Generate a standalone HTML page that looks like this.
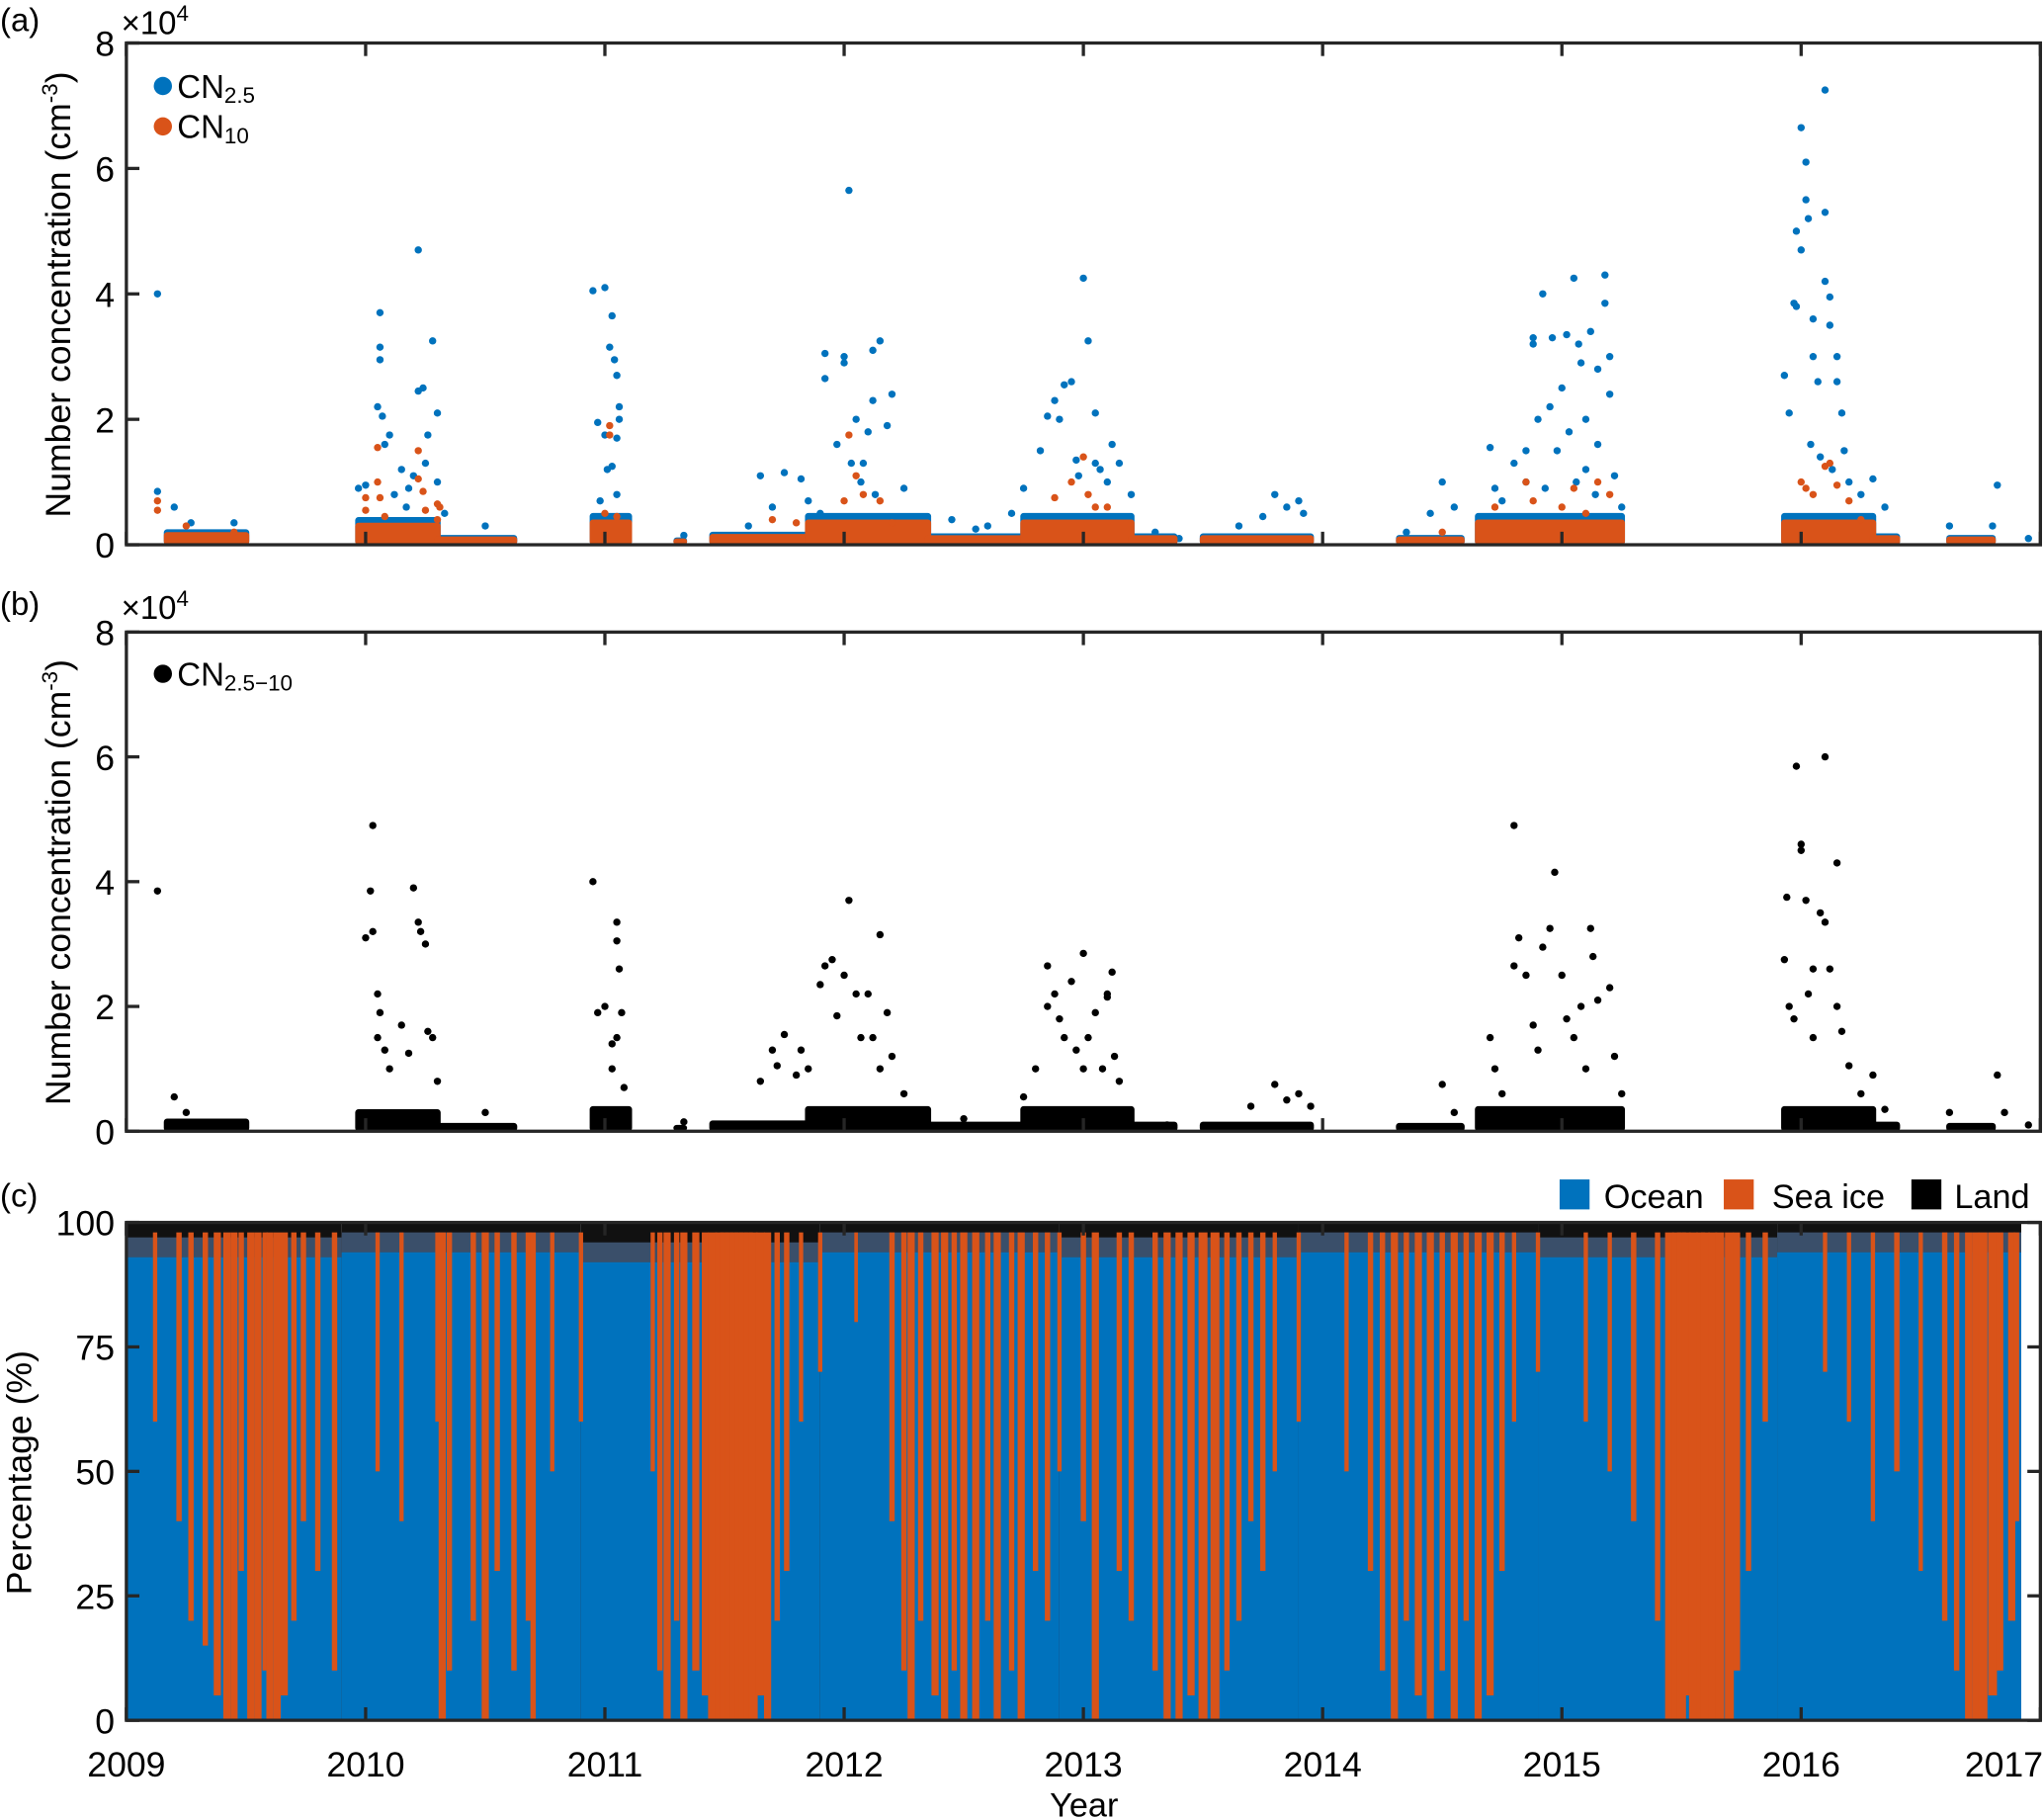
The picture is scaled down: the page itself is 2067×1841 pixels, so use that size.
<!DOCTYPE html>
<html><head><meta charset="utf-8"><style>
html,body{margin:0;padding:0;background:#fff}
svg{display:block}
text{font-family:"Liberation Sans",Arial,sans-serif;fill:#000}
</style></head><body>
<svg id="chart" width="2067" height="1841" viewBox="0 0 1568 1396.5" preserveAspectRatio="none" xmlns="http://www.w3.org/2000/svg">
<g id="gA"></g>
<g id="gB"></g>
<g id="gC"></g>
</svg>
<script>
// ---- data ----
const yearTicks=[2009,2010,2011,2012,2013,2014,2015,2016,2017];
const concTicks=[0,2,4,6,8];
const pctTicks=[0,25,50,75,100];
// dense low-level measurement campaigns: start, end, typical top (x1e4)
const campStart=[2009.17,2009.97,2010.3,2010.95,2011.3,2011.45,2011.85,2012.35,2012.75,2013.2,2013.5,2014.32,2014.65,2015.93,2016.3,2016.62];
const campEnd=[2009.5,2010.3,2010.62,2011.1,2011.33,2011.85,2012.35,2012.75,2013.2,2013.38,2013.95,2014.58,2015.25,2016.3,2016.4,2016.8];
const campTop=[0.15,0.3,0.08,0.35,0.05,0.12,0.35,0.1,0.35,0.1,0.1,0.08,0.35,0.35,0.1,0.08];
// CN2.5
const cn25Year=[2009.13,2009.13,2009.2,2009.27,2009.45,2009.97,2010.0,2010.05,2010.06,2010.06,2010.06,2010.07,2010.08,2010.1,2010.15,2010.17,2010.2,2010.22,2010.22,2010.24,2010.25,2010.26,2010.28,2010.3,2010.3,2010.33,2010.5,2010.95,2010.97,2010.98,2011.0,2011.0,2011.02,2011.03,2011.04,2011.05,2011.06,2011.06,2011.05,2011.03,2011.05,2011.33,2011.6,2011.7,2011.65,2011.75,2011.82,2011.85,2011.9,2011.92,2011.92,2011.97,2012.0,2012.0,2012.02,2012.05,2012.08,2012.1,2012.12,2012.12,2012.15,2012.18,2012.2,2012.25,2012.3,2012.45,2012.55,2012.6,2012.7,2012.75,2012.82,2012.85,2012.88,2012.9,2012.92,2012.95,2012.97,2013.0,2013.02,2013.05,2013.05,2013.1,2013.12,2013.15,2013.2,2013.3,2013.4,2013.75,2013.8,2013.85,2013.9,2013.92,2013.65,2014.35,2014.45,2014.5,2014.55,2014.7,2014.72,2014.75,2014.8,2014.85,2014.85,2014.88,2014.88,2014.9,2014.92,2014.95,2014.96,2014.98,2015.0,2015.02,2015.03,2015.05,2015.07,2015.08,2015.1,2015.1,2015.12,2015.15,2015.15,2015.18,2015.18,2015.2,2015.2,2015.22,2015.25,2015.93,2015.95,2015.97,2015.98,2015.98,2016.0,2016.0,2016.02,2016.02,2016.03,2016.05,2016.05,2016.07,2016.1,2016.1,2016.1,2016.12,2016.12,2016.15,2016.15,2016.17,2016.18,2016.2,2016.25,2016.3,2016.35,2016.62,2016.8,2016.82,2016.95,2010.12,2010.18,2011.01,2012.03,2012.07,2012.13,2012.98,2013.07,2014.93,2015.06,2015.14,2016.04,2016.08,2016.13];
const cn25Val=[4.0,0.85,0.6,0.35,0.35,0.9,0.95,2.2,3.7,3.15,2.95,2.05,1.6,1.75,1.2,0.6,1.1,4.7,2.45,2.5,1.3,1.75,3.25,2.1,1.0,0.5,0.3,4.05,1.95,0.7,4.1,1.75,3.15,3.65,2.95,2.7,2.2,2.0,1.7,1.25,0.8,0.15,0.3,0.6,1.1,1.15,1.05,0.7,0.5,3.05,2.65,1.6,2.9,3.0,5.65,2.0,1.3,1.8,3.1,2.3,3.25,1.9,2.4,0.9,0.4,0.4,0.25,0.3,0.5,0.9,1.5,2.05,2.3,2.0,2.55,2.6,1.35,4.25,3.25,2.1,1.3,1.0,1.6,1.3,0.8,0.2,0.1,0.45,0.8,0.6,0.7,0.5,0.3,0.2,0.5,1.0,0.6,1.55,0.9,0.7,1.3,1.5,1.0,3.3,3.2,2.0,4.0,2.2,3.3,1.5,2.5,3.35,1.8,4.25,3.2,2.9,2.0,1.2,3.4,1.6,2.8,4.3,3.85,3.0,2.4,1.1,0.6,2.7,2.1,3.85,3.8,5.0,4.7,6.65,6.1,5.5,5.2,3.6,3.0,2.6,5.3,4.2,7.25,3.95,3.5,3.0,2.6,2.1,1.5,1.0,0.8,1.05,0.6,0.3,0.3,0.95,0.1,0.8,0.9,1.2,1.3,1.0,0.8,1.1,1.2,0.9,1.0,0.8,1.6,1.4,1.2];
// CN10
const cn10Year=[2009.13,2009.13,2009.25,2009.45,2010.0,2010.0,2010.05,2010.05,2010.06,2010.08,2010.22,2010.22,2010.24,2010.25,2010.3,2010.31,2010.3,2011.02,2011.02,2011.0,2011.05,2012.0,2012.02,2012.05,2012.08,2012.15,2012.2,2011.8,2011.7,2012.88,2012.95,2013.0,2013.02,2013.05,2013.1,2014.5,2014.72,2014.85,2014.88,2015.0,2015.05,2015.1,2015.15,2015.2,2016.0,2016.02,2016.05,2016.1,2016.12,2016.15,2016.2,2016.25];
const cn10Val=[0.7,0.55,0.3,0.2,0.75,0.55,1.55,1.0,0.75,0.45,1.5,1.05,0.85,0.55,0.65,0.6,0.4,1.9,1.75,0.5,0.45,0.7,1.75,1.1,0.8,0.7,0.35,0.35,0.4,0.75,1.0,1.4,0.8,0.6,0.6,0.2,0.6,1.0,0.7,0.6,0.9,0.5,1.0,0.8,1.0,0.9,0.8,1.25,1.3,0.95,0.7,0.4];
// CN2.5-10
const cnDiffYear=[2009.13,2009.2,2009.25,2010.03,2010.02,2010.0,2010.03,2010.05,2010.06,2010.05,2010.08,2010.1,2010.15,2010.18,2010.2,2010.22,2010.23,2010.25,2010.26,2010.28,2010.3,2010.5,2010.95,2010.97,2011.0,2011.03,2011.03,2011.05,2011.05,2011.06,2011.07,2011.05,2011.08,2011.33,2011.65,2011.7,2011.72,2011.75,2011.8,2011.82,2011.85,2011.9,2011.92,2011.95,2011.97,2012.0,2012.02,2012.05,2012.07,2012.1,2012.12,2012.15,2012.15,2012.18,2012.2,2012.25,2012.3,2012.5,2012.75,2012.8,2012.85,2012.85,2012.88,2012.9,2012.92,2012.95,2012.97,2013.0,2013.0,2013.02,2013.05,2013.08,2013.1,2013.12,2013.1,2013.13,2013.15,2013.35,2013.7,2013.8,2013.85,2013.9,2013.95,2014.5,2014.55,2014.7,2014.72,2014.75,2014.8,2014.8,2014.82,2014.85,2014.88,2014.9,2014.92,2014.95,2014.97,2015.0,2015.02,2015.05,2015.08,2015.1,2015.12,2015.13,2015.15,2015.2,2015.22,2015.25,2015.93,2015.94,2015.95,2015.97,2015.98,2016.0,2016.0,2016.02,2016.03,2016.05,2016.05,2016.08,2016.1,2016.1,2016.12,2016.15,2016.15,2016.17,2016.2,2016.25,2016.3,2016.35,2016.62,2016.82,2016.85,2016.95];
const cnDiffVal=[3.85,0.55,0.3,4.9,3.85,3.1,3.2,2.2,1.9,1.5,1.3,1.0,1.7,1.25,3.9,3.35,3.2,3.0,1.6,1.5,0.8,0.3,4.0,1.9,2.0,1.4,1.0,3.35,3.05,2.6,1.9,1.5,0.7,0.15,0.8,1.3,1.05,1.55,0.9,1.3,1.0,2.35,2.65,2.75,1.85,2.5,3.7,2.2,1.5,2.2,1.5,1.0,3.15,1.9,1.2,0.6,0.3,0.2,0.55,1.0,2.0,2.65,2.2,1.8,1.5,2.4,1.3,2.85,1.0,1.5,1.9,1.0,2.2,2.55,2.15,1.2,0.8,0.1,0.4,0.75,0.5,0.6,0.4,0.75,0.3,1.5,1.0,0.6,4.9,2.65,3.1,2.5,1.7,1.3,2.95,3.25,4.15,2.5,1.8,1.5,2.0,1.0,3.25,2.8,2.1,2.3,1.2,0.6,2.75,3.75,2.0,1.8,5.85,4.6,4.5,3.7,2.2,1.5,2.6,3.5,6.0,3.35,2.6,4.3,2.0,1.6,1.05,0.6,0.9,0.35,0.3,0.9,0.3,0.1];
// panel c: base segments and sea-ice stripes (ocean % below the sea-ice part)
const baseStart=[2009.0,2009.9,2010.9,2011.9,2012.9,2013.9,2014.9,2015.9];
const baseEnd=[2009.9,2010.9,2011.9,2012.9,2013.9,2014.9,2015.9,2016.92];
const baseOcean=[93,94,92,94,93,94,93,94];
const baseLand=[3,2,4,2,3,2,3,2];
const stripeYear=[2009.12,2009.22,2009.27,2009.33,2009.38,2009.42,2009.45,2009.48,2009.52,2009.55,2009.58,2009.6,2009.63,2009.66,2009.7,2009.74,2009.8,2009.87,2010.05,2010.15,2010.3,2010.32,2010.35,2010.45,2010.5,2010.55,2010.62,2010.68,2010.7,2010.78,2010.9,2011.2,2011.23,2011.26,2011.3,2011.33,2011.38,2011.42,2011.45,2011.48,2011.5,2011.52,2011.54,2011.56,2011.58,2011.6,2011.62,2011.65,2011.68,2011.72,2011.76,2011.82,2011.9,2012.05,2012.2,2012.25,2012.28,2012.32,2012.38,2012.42,2012.46,2012.5,2012.55,2012.6,2012.64,2012.7,2012.74,2012.8,2012.85,2012.9,2013.0,2013.05,2013.15,2013.2,2013.3,2013.35,2013.4,2013.45,2013.5,2013.55,2013.6,2013.65,2013.7,2013.75,2013.8,2013.9,2014.1,2014.2,2014.25,2014.3,2014.35,2014.4,2014.45,2014.5,2014.55,2014.6,2014.65,2014.7,2014.75,2014.8,2014.9,2015.1,2015.2,2015.3,2015.4,2015.45,2015.48,2015.5,2015.52,2015.55,2015.58,2015.6,2015.63,2015.66,2015.7,2015.73,2015.78,2015.85,2016.1,2016.2,2016.3,2016.4,2016.5,2016.6,2016.65,2016.7,2016.73,2016.76,2016.8,2016.83,2016.88,2016.9];
const stripeOcean=[60,40,20,15,5,0,0,30,0,0,10,0,0,5,20,40,30,10,50,40,60,0,10,20,0,30,10,20,0,50,60,50,10,0,20,0,10,5,0,0,0,0,0,0,0,0,0,5,0,20,30,60,70,80,40,10,0,20,5,0,10,0,0,20,0,10,0,30,20,50,40,0,30,20,10,0,0,5,0,0,10,20,40,30,50,60,50,30,10,0,20,5,0,10,0,20,0,5,30,60,70,60,50,40,20,0,0,0,5,0,0,0,0,0,0,10,30,60,70,60,40,50,30,20,10,0,0,0,5,10,20,40];
const stripeWidth=[0.012,0.015,0.015,0.015,0.02,0.02,0.02,0.015,0.02,0.02,0.015,0.02,0.02,0.02,0.015,0.015,0.015,0.015,0.012,0.012,0.012,0.02,0.015,0.015,0.02,0.015,0.015,0.015,0.015,0.012,0.012,0.012,0.015,0.02,0.015,0.02,0.02,0.02,0.025,0.025,0.025,0.025,0.025,0.025,0.025,0.025,0.025,0.025,0.02,0.015,0.015,0.012,0.012,0.01,0.015,0.015,0.02,0.015,0.02,0.02,0.015,0.02,0.02,0.015,0.02,0.015,0.02,0.015,0.015,0.012,0.015,0.02,0.015,0.015,0.015,0.02,0.02,0.02,0.025,0.025,0.015,0.015,0.015,0.015,0.012,0.012,0.012,0.015,0.015,0.02,0.015,0.02,0.02,0.015,0.02,0.015,0.02,0.02,0.015,0.012,0.012,0.012,0.012,0.015,0.015,0.025,0.025,0.025,0.025,0.025,0.025,0.025,0.025,0.025,0.025,0.02,0.015,0.015,0.012,0.012,0.012,0.015,0.012,0.015,0.015,0.02,0.02,0.025,0.025,0.02,0.02,0.015,0.015,0.01];

// ---- helpers ----
const NS='http://www.w3.org/2000/svg';
const X0=97,X1=1566;
function xs(y){return X0+(y-2009)/8*(X1-X0);}
function mk(parent,tag,attrs,txt){const e=document.createElementNS(NS,tag);for(const k in attrs)e.setAttribute(k,attrs[k]);if(txt!==undefined)e.textContent=txt;parent.appendChild(e);return e;}
const BLUE='#0072bd',ORANGE='#d95319';
const STRIPE_SCALE=1.5;

function axesFrame(g,top,bot,yTicks,ys,rightTicks){
  for(const t of yearTicks){
    const x=xs(t);
    const a=mk(g,'line',{x1:x,x2:x,y1:bot,y2:bot-10,stroke:'#262626','stroke-width':2.5});
    
    
    const b=mk(g,'line',{x1:x,x2:x,y1:top,y2:top+10,stroke:'#262626','stroke-width':2.5});
    
    
  }
  for(const t of yTicks){
    const y=ys(t);
    const a=mk(g,'line',{x1:X0,x2:X0+10,y1:y,y2:y,stroke:'#262626','stroke-width':2.5});
    
    
    if(rightTicks){
      const b=mk(g,'line',{x1:X1,x2:X1-10,y1:y,y2:y,stroke:'#262626','stroke-width':2.5});
      
      
    }
    const l=mk(g,'text',{x:X0-9,y:y+10,'text-anchor':'end','font-size':27},String(t));
    
    
  }
  const r=mk(g,'rect',{x:X0,y:top,width:X1-X0,height:bot-top,fill:'none',stroke:'#262626','stroke-width':2.5});
  
  
}
function dots(g,years,vals,ys,color,name){
  for(let i=0;i<years.length;i++){
    const c=mk(g,'circle',{cx:xs(years[i]),cy:ys(vals[i]),r:2.8,fill:color});
    
    
  }
}
function camps(g,ys,color,name){
  for(let i=0;i<campStart.length;i++){
    const x1=xs(campStart[i]),x2=xs(campEnd[i]),y=ys(campTop[i]),b=ys(0);
    const r=mk(g,'rect',{x:x1-2.5,y:y-2.5,width:x2-x1+5,height:b-y+2.5,rx:2.5,fill:color});
    
    
  }
}
function multiplier(g,y){
  const e=mk(g,'text',{x:93,y:y,'font-size':25},'×10');
  
  
  mk(e,'tspan',{dy:-10,'font-size':17},'4');
}
function ytitle(g,cy){
  const e=mk(g,'text',{transform:'translate(54,'+cy+') rotate(-90)','text-anchor':'middle','font-size':27},'Number concentration (cm');
  
  
  mk(e,'tspan',{dy:-10,'font-size':17},'-3');mk(e,'tspan',{dy:10},')');
}

// ---- panel a ----
(function(){
  const g=document.getElementById('gA');const top=33,bot=418;
  const ys=v=>bot-(v/8)*(bot-top);
  camps(g,v=>ys(v*1.3),BLUE,'cn25-dense-band');
  dots(g,cn25Year,cn25Val,ys,BLUE,'cn25-point');
  camps(g,ys,ORANGE,'cn10-dense-band');
  dots(g,cn10Year,cn10Val,ys,ORANGE,'cn10-point');
  axesFrame(g,top,bot,concTicks,ys,false);
  let e=mk(g,'text',{x:0,y:24,'font-size':25},'(a)');
  multiplier(g,26);
  ytitle(g,226);
  e=mk(g,'circle',{cx:125,cy:66,r:7,fill:BLUE});
  e=mk(g,'text',{x:136,y:75,'font-size':25},'CN');
  mk(e,'tspan',{'font-size':17,dy:4},'2.5');
  e=mk(g,'circle',{cx:125,cy:97,r:7,fill:ORANGE});
  e=mk(g,'text',{x:136,y:106,'font-size':25},'CN');
  mk(e,'tspan',{'font-size':17,dy:4},'10');
})();

// ---- panel b ----
(function(){
  const g=document.getElementById('gB');const top=485,bot=868;
  const ys=v=>bot-(v/8)*(bot-top);
  camps(g,ys,'#000','cndiff-dense-band');
  dots(g,cnDiffYear,cnDiffVal,ys,'#000','cndiff-point');
  axesFrame(g,top,bot,concTicks,ys,false);
  let e=mk(g,'text',{x:0,y:472,'font-size':25},'(b)');
  multiplier(g,475);
  ytitle(g,677);
  e=mk(g,'circle',{cx:125,cy:517,r:7,fill:'#000'});
  e=mk(g,'text',{x:136,y:526,'font-size':25},'CN');
  mk(e,'tspan',{'font-size':17,dy:4},'2.5−10');
})();

// ---- panel c ----
(function(){
  const g=document.getElementById('gC');const top=938,bot=1320;
  const ys=v=>bot-(v/100)*(bot-top);
  for(let i=0;i<baseStart.length;i++){
    const x1=xs(baseStart[i]),x2=xs(baseEnd[i]);
    let r=mk(g,'rect',{x:x1,y:ys(100),width:x2-x1,height:ys(0)-ys(100),fill:'#111'});
    
    
    r=mk(g,'rect',{x:x1,y:ys(100-baseLand[i]),width:x2-x1,height:ys(0)-ys(100-baseLand[i]),fill:'#3a4f6a'});
    
    
    r=mk(g,'rect',{x:x1,y:ys(baseOcean[i]),width:x2-x1,height:ys(0)-ys(baseOcean[i]),fill:BLUE});
    
    
  }
  for(let i=0;i<stripeYear.length;i++){
    const w0=stripeWidth[i]*STRIPE_SCALE;
    const x1=xs(stripeYear[i]-w0/2),w=xs(stripeYear[i]+w0/2)-x1;
    const r=mk(g,'rect',{x:x1,y:ys(98),width:w,height:ys(stripeOcean[i])-ys(98),fill:ORANGE});
    
    
  }
  axesFrame(g,top,bot,pctTicks,ys,true);
  for(const t of yearTicks){
    const x=t===2017?X1+2:xs(t);
    const l=mk(g,'text',{x:x,y:1363,'text-anchor':t===2017?'end':'middle','font-size':27},String(t));
    
    
  }
  let e=mk(g,'text',{x:832,y:1394,'text-anchor':'middle','font-size':26},'Year');
  e=mk(g,'text',{transform:'translate(24,1130) rotate(-90)','text-anchor':'middle','font-size':27},'Percentage (%)');
  e=mk(g,'text',{x:0,y:926,'font-size':25},'(c)');
  const leg=[[1197,BLUE,'Ocean',1231],[1323,ORANGE,'Sea ice',1360],[1467,'#000','Land',1500]];
  for(const L of leg){
    e=mk(g,'rect',{x:L[0],y:905,width:23,height:23,fill:L[1]});
    e=mk(g,'text',{x:L[3],y:927,'font-size':26},L[2]);
  }
})();
</script>
</body></html>
